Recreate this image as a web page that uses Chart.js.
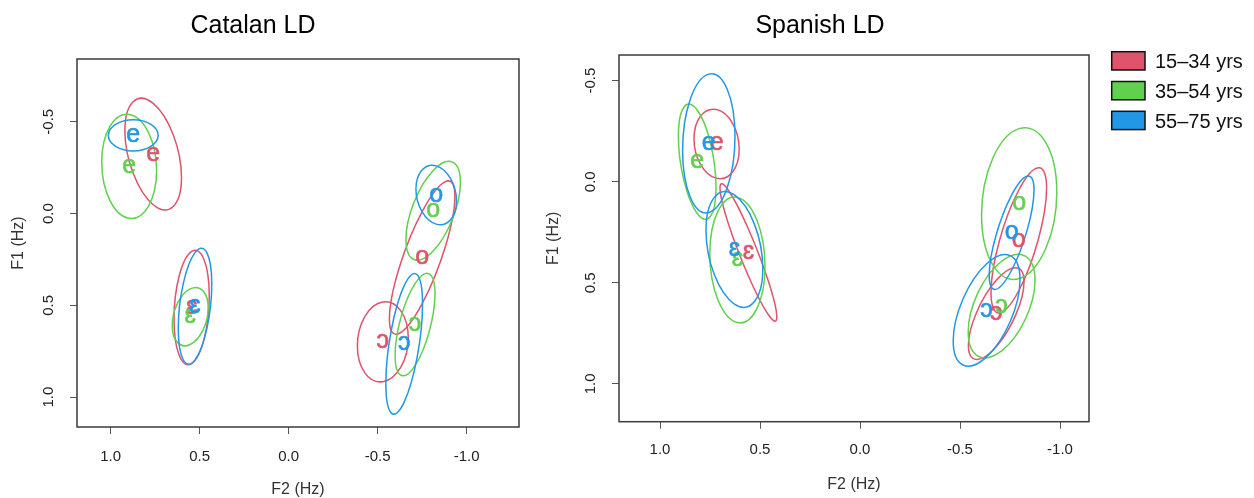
<!DOCTYPE html>
<html>
<head>
<meta charset="utf-8">
<script src="https://cdn.jsdelivr.net/npm/chart.js@4.4.1/dist/chart.umd.min.js"></script>
<style>
  body { margin: 0; background: #fff; }
  .panel { position: absolute; top: 0; }
</style>
</head>
<body>
<div class="panel" style="left:0"><canvas id="catalanChart" width="540" height="498"></canvas></div>
<div class="panel" style="left:540px"><canvas id="spanishChart" width="714" height="498"></canvas></div>
<script>
const vowels = ['e', 'ɛ', 'o', 'ɔ'];
const ageGroups = ['15–34 yrs', '35–54 yrs', '55–75 yrs'];
const groupColors = ['#DF536B', '#61D04F', '#2297E6'];
const xTicks = [1.0, 0.5, 0.0, -0.5, -1.0];
const yTicks = [-0.5, 0.0, 0.5, 1.0];

// Catalan LD, one row per age group, columns in vowel order
const catalanF2 = [
  [0.761, 0.545, -0.750, -0.529],
  [0.896, 0.553, -0.812, -0.710],
  [0.873, 0.526, -0.829, -0.649],
];
const catalanF1 = [
  [-0.324, 0.512, 0.240, 0.699],
  [-0.257, 0.562, -0.015, 0.605],
  [-0.426, 0.505, -0.101, 0.710],
];
const catalanSdF2 = [
  [0.159, 0.099, 0.184, 0.143],
  [0.154, 0.101, 0.153, 0.112],
  [0.140, 0.094, 0.114, 0.103],
];
const catalanSdF1 = [
  [0.304, 0.312, 0.418, 0.218],
  [0.284, 0.159, 0.269, 0.279],
  [0.085, 0.316, 0.162, 0.383],
];
const catalanRho = [
  [-0.42, 0.20, 0.80, 0.10],
  [-0.08, 0.30, 0.58, 0.60],
  [0.00, 0.38, -0.20, 0.56],
];

// Spanish LD
const spanishF2 = [
  [0.717, 0.558, -0.794, -0.681],
  [0.814, 0.613, -0.796, -0.708],
  [0.756, 0.628, -0.758, -0.633],
];
const spanishF1 = [
  [-0.187, 0.350, 0.290, 0.652],
  [-0.099, 0.387, 0.108, 0.615],
  [-0.190, 0.335, 0.252, 0.636],
];
const spanishSdF2 = [
  [0.113, 0.142, 0.139, 0.139],
  [0.094, 0.138, 0.188, 0.167],
  [0.131, 0.142, 0.112, 0.167],
];
const spanishSdF1 = [
  [0.172, 0.340, 0.359, 0.227],
  [0.285, 0.311, 0.375, 0.256],
  [0.344, 0.286, 0.281, 0.276],
];
const spanishRho = [
  [-0.15, -0.94, 0.72, 0.69],
  [-0.44, -0.10, 0.15, 0.50],
  [0.10, -0.33, 0.75, 0.55],
];

const FONT = '"Liberation Sans", Arial, Helvetica, sans-serif';
Chart.defaults.font.family = FONT;

// ellipses, vowel labels, box, title and legend
const vowelPlot = {
  id: 'vowelPlot',
  afterDatasetsDraw(chart, args, opts) {
    const { ctx, chartArea: area, scales: { x, y } } = chart;
    ctx.save();
    ctx.strokeStyle = '#3a3a3a';
    ctx.lineWidth = 1.5;
    ctx.strokeRect(area.left, area.top, area.right - area.left, area.bottom - area.top);

    ctx.lineWidth = 1.5;
    chart.data.datasets.forEach((ds, g) => {
      const meta = chart.getDatasetMeta(g);
      ctx.strokeStyle = ds.borderColor;
      ds.data.forEach((p, i) => {
        const c = meta.data[i];
        const sx = ds.sdF2[i], sy = ds.sdF1[i], r = ds.rho[i];
        const ax = x.getPixelForValue(p.x + sx) - c.x;
        const ay = y.getPixelForValue(p.y + sy * r) - c.y;
        const by = y.getPixelForValue(p.y + sy * Math.sqrt(1 - r * r)) - c.y;
        ctx.save();
        ctx.beginPath();
        ctx.transform(ax, ay, 0, by, c.x, c.y);
        ctx.arc(0, 0, 1, 0, Math.PI * 2);
        ctx.restore();
        ctx.stroke();
      });
    });

    ctx.font = `25px ${FONT}`;
    ctx.textAlign = 'center';
    ctx.textBaseline = 'alphabetic';
    ctx.lineWidth = 0.6;
    chart.data.datasets.forEach((ds, g) => {
      const meta = chart.getDatasetMeta(g);
      ctx.fillStyle = ds.borderColor;
      ctx.strokeStyle = ds.borderColor;
      meta.data.forEach((pt, i) => {
        ctx.fillText(vowels[i], pt.x, pt.y + 6.5);
        ctx.strokeText(vowels[i], pt.x, pt.y + 6.5);
      });
    });
    ctx.restore();
  },
  afterDraw(chart, args, opts) {
    const { ctx } = chart;
    ctx.save();
    ctx.fillStyle = '#000';
    ctx.font = `25px ${FONT}`;
    ctx.textAlign = 'center';
    ctx.textBaseline = 'alphabetic';
    ctx.fillText(opts.title, opts.titleX, 33);

    if (opts.legendX !== undefined) {
      ctx.font = `20px ${FONT}`;
      ctx.textAlign = 'left';
      ageGroups.forEach((label, g) => {
        const top = 51.7 + g * 29.8;
        ctx.fillStyle = groupColors[g];
        ctx.fillRect(opts.legendX, top, 33.3, 18.3);
        ctx.strokeStyle = '#111';
        ctx.lineWidth = 1.5;
        ctx.strokeRect(opts.legendX, top, 33.3, 18.3);
        ctx.fillStyle = '#111';
        ctx.fillText(label, opts.legendX + 43.3, top + 16.5);
      });
    }
    ctx.restore();
  },
};

function makeDatasets(f2, f1, sdF2, sdF1, rho) {
  return ageGroups.map((label, g) => ({
    label,
    data: f2[g].map((v, i) => ({ x: v, y: f1[g][i] })),
    sdF2: sdF2[g],
    sdF1: sdF1[g],
    rho: rho[g],
    borderColor: groupColors[g],
    backgroundColor: groupColors[g],
    pointRadius: 0,
    showLine: false,
  }));
}

function makeChart(id, datasets, cfg) {
  const ctx = document.getElementById(id).getContext('2d');
  return new Chart(ctx, {
    type: 'scatter',
    data: { datasets },
    plugins: [vowelPlot],
    options: {
      responsive: false,
      animation: false,
      layout: { padding: { left: 0, right: cfg.padRight, top: cfg.top, bottom: 0 } },
      plugins: {
        legend: { display: false },
        tooltip: { enabled: false },
        vowelPlot: { title: cfg.title, titleX: cfg.titleX, legendX: cfg.legendX },
      },
      scales: {
        x: {
          type: 'linear',
          reverse: true,
          min: cfg.xMin,
          max: cfg.xMax,
          afterBuildTicks: s => { s.ticks = xTicks.map(v => ({ value: v })); },
          afterFit: s => { s.height = cfg.xHeight; },
          grid: { drawOnChartArea: false, drawTicks: true, tickLength: 7, color: '#555' },
          border: { display: false },
          ticks: { font: { size: 15 }, color: '#222', padding: cfg.xTickPad, callback: v => v.toFixed(1) },
          title: {
            display: true, text: 'F2 (Hz)', color: '#333',
            font: { size: 16, lineHeight: 1 },
            padding: { top: 0, bottom: cfg.xTitlePad },
          },
        },
        y: {
          type: 'linear',
          reverse: true,
          min: cfg.yMin,
          max: cfg.yMax,
          afterBuildTicks: s => { s.ticks = yTicks.map(v => ({ value: v })); },
          afterFit: s => { s.width = cfg.yWidth; },
          grid: { drawOnChartArea: false, drawTicks: true, tickLength: 7, color: '#555' },
          border: { display: false },
          ticks: {
            font: { size: 15 }, color: '#222', padding: 8,
            minRotation: 90, maxRotation: 90, crossAlign: 'center',
            callback: v => v.toFixed(1),
          },
          title: {
            display: true, text: 'F1 (Hz)', color: '#333',
            font: { size: 16, lineHeight: 1 },
            padding: { top: cfg.yTitlePad, bottom: 0 },
          },
        },
      },
    },
  });
}

makeChart('catalanChart',
  makeDatasets(catalanF2, catalanF1, catalanSdF2, catalanSdF1, catalanRho),
  {
    title: 'Catalan LD', titleX: 253,
    xMin: -1.294, xMax: 1.189, yMin: -0.842, yMax: 1.163,
    padRight: 21, top: 59, xHeight: 71, yWidth: 77,
    xTickPad: 14, xTitlePad: 0, yTitlePad: 10.3,
  });

makeChart('spanishChart',
  makeDatasets(spanishF2, spanishF1, spanishSdF2, spanishSdF1, spanishRho),
  {
    title: 'Spanish LD', titleX: 280, legendX: 571.7,
    xMin: -1.145, xMax: 1.205, yMin: -0.627, yMax: 1.187,
    padRight: 165, top: 55, xHeight: 76.3, yWidth: 79,
    xTickPad: 12, xTitlePad: 5, yTitlePad: 6,
  });
</script>
</body>
</html>
